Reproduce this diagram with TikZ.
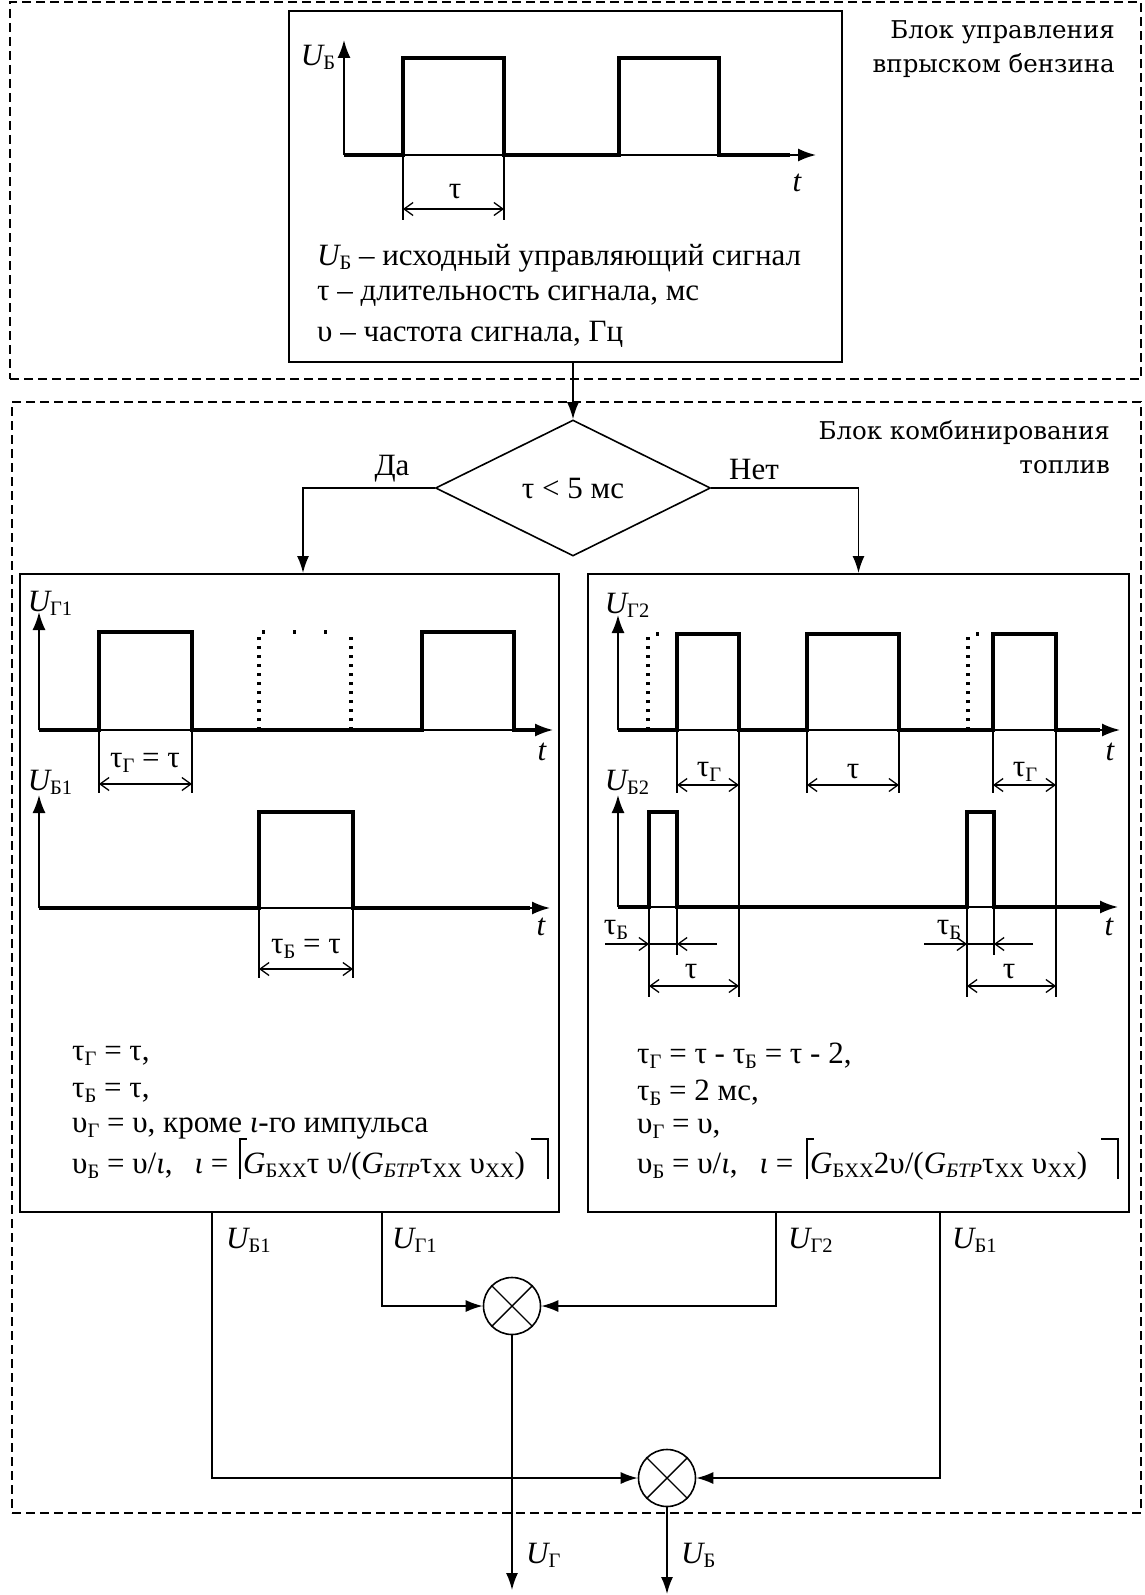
\documentclass[tikz,border=0pt]{standalone}
\usepackage{fontspec}
\setmainfont{Liberation Serif}
\newfontfamily\blockfont{DejaVu Serif}
\usetikzlibrary{arrows.meta,shapes.geometric,calc}
\newcommand{\lo}[1]{\raisebox{-0.3ex}{\fontsize{20.5}{20.5}\selectfont #1}}
\newcommand{\uu}[1]{{\itshape U}\lo{#1}}
\begin{document}
\begin{tikzpicture}[x=1pt,y=-1pt,
  txt/.style={font=\fontsize{31}{36}\selectfont, inner sep=0pt},
  blk/.style={font=\blockfont\fontsize{24.5}{34}\selectfont, inner sep=0pt, align=right},
  box/.style={draw, line width=2pt, inner sep=0pt},
  dashbox/.style={draw, line width=2pt, dash pattern=on 9pt off 5pt, inner sep=0pt},
  sig/.style={line width=4pt, line join=miter},
  axis/.style={line width=1.8pt, -{Latex[length=18pt,width=13pt]}},
  ext/.style={line width=1.1pt},
  dim/.style={line width=1.3pt, {Straight Barb[length=9pt,width=13pt]}-{Straight Barb[length=9pt,width=13pt]}},
  barb/.style={line width=1.3pt, -{Straight Barb[length=9pt,width=13pt]}},
  flow/.style={line width=1.6pt, -{Latex[length=17pt,width=12pt]}},
  dots/.style={line width=4pt, dash pattern=on 3pt off 6pt},
  sparse/.style={line width=4pt, dash pattern=on 3pt off 28pt},
  mult/.style={draw, circle, line width=1.6pt, minimum size=57pt, inner sep=0pt}
]
\useasboundingbox (0,0) rectangle (1144,1595);

% ---------- outer dashed blocks ----------
\node[dashbox, minimum width=1131pt, minimum height=377pt] (blk1) at (575.5,190.5) {};
\node[dashbox, minimum width=1129pt, minimum height=1111pt] (blk2) at (576.5,957.5) {};
\node[blk, anchor=north east] (blk1lbl) at (1115,20) {Блок управления\\впрыском бензина};
\node[blk, anchor=north east] (blk2lbl) at (1110,420) {Блок комбинирования\\топлив};

% ---------- top box ----------
\node[box, minimum width=553pt, minimum height=351pt] (top) at (565.5,186.5) {};
\draw[axis] (344,155) -- (344,40);
\draw[axis] (344,155) -- (816,155);
\draw[sig] (344,155) -- (403,155) -- (403,58) -- (504,58) -- (504,155) -- (619,155) -- (619,58) -- (719,58) -- (719,155) -- (790,155);
\draw[ext] (403,155) -- (403,220) (504,155) -- (504,220);
\draw[dim] (403,209) -- (504,209);
\node[txt] (tau0) at (455,192) {τ};
\node[txt] (t0) at (797,183) {\itshape t};
\node[txt] (ub0) at (318,57) {\uu{Б}};
\node[txt, anchor=west] (tl1) at (317,258) {\uu{Б} – исходный управляющий сигнал};
\node[txt, anchor=west] (tl2) at (317,296) {τ – длительность сигнала, мс};
\node[txt, anchor=west] (tl3) at (317,334) {υ – частота сигнала, Гц};

% ---------- decision ----------
\node[draw, diamond, line width=1.6pt, aspect=2, minimum width=275pt, minimum height=136pt, txt] (dia) at (573,488) {τ < 5 мс};
\draw[flow] (dia.north |- top.south) -- (dia.north);
\node[txt] (yes) at (392,469) {Да};
\node[txt] (no) at (754,469) {Нет};

% ---------- left box ----------
\node[box, minimum width=539pt, minimum height=638pt] (lbox) at (289.5,893) {};
\draw[flow] (dia.west) -| ([xshift=13.5pt]lbox.north);
\node[txt] (ug1) at (50,603) {\uu{Г1}};
\draw[axis] (39,730) -- (39,612);
\draw[axis] (39,730) -- (553,730);
\draw[sig] (39,730) -- (99,730) -- (99,632) -- (192,632) -- (192,730) -- (422,730) -- (422,632) -- (514,632) -- (514,730) -- (535,730);
\draw[dots] (259,730) -- (259,634);
\draw[dots] (351,730) -- (351,634);
\draw[sparse] (262,632) -- (352,632);
\draw[ext] (99,730) -- (99,793) (192,730) -- (192,793);
\draw[dim] (99,784) -- (192,784);
\node[txt] (l1a) at (145,763) {τ\lo{Г} = τ};
\node[txt] (lt1) at (542,752) {\itshape t};
\node[txt] (ub1) at (50,782) {\uu{Б1}};
\draw[axis] (39,908) -- (39,795);
\draw[axis] (39,908) -- (550,908);
\draw[sig] (39,908) -- (259,908) -- (259,812) -- (353,812) -- (353,908) -- (530,908);
\draw[ext] (259,908) -- (259,978) (353,908) -- (353,978);
\draw[dim] (259,969) -- (353,969);
\node[txt] (l1b) at (306,949) {τ\lo{Б} = τ};
\node[txt] (lt2) at (541,927) {\itshape t};

\node[txt, anchor=west] (lf1) at (72,1056) {τ\lo{Г} = τ,};
\node[txt, anchor=west] (lf2) at (72,1093) {τ\lo{Б} = τ,};
\node[txt, anchor=west] (lf3) at (72,1129) {υ\lo{Г} = υ, кроме {\itshape ι}-го импульса};
\node[txt, anchor=west] (lf4) at (72,1166) {υ\lo{Б} = υ/{\itshape ι},\hspace{22pt}{\itshape ι} =};
\node[txt, anchor=west] (lf4b) at (243,1166) {{\itshape G}\lo{БXX}τ υ/({\itshape G}\lo{\itshape БТР}τ\lo{XX} υ\lo{XX})};
\draw[line width=1.5pt] ($(lf4b.west)+(-3,13)$) -- ($(lf4b.west)+(-3,-27)$) -- ++(7,0);
\draw[line width=1.5pt] ($(lf4b.west)+(305,13)$) -- ($(lf4b.west)+(305,-27)$) -- ++(-17,0);

% ---------- right box ----------
\node[box, minimum width=541pt, minimum height=638pt] (rbox) at (858.5,893) {};
\draw[flow] (dia.east) -| (rbox.north);
\node[txt] (ug2) at (627,605) {\uu{Г2}};
\draw[axis] (618,730) -- (618,615);
\draw[axis] (618,730) -- (1120,730);
\draw[sig] (618,730) -- (677,730) -- (677,634) -- (739,634) -- (739,730) -- (807,730) -- (807,634) -- (899,634) -- (899,730) -- (993,730) -- (993,634) -- (1056,634) -- (1056,730) -- (1100,730);
\draw[dots] (648,730) -- (648,636);
\draw[dots] (968,730) -- (968,636);
\draw[sparse] (656,634) -- (672,634);
\draw[sparse] (976,634) -- (990,634);
\draw[ext] (677,730) -- (677,793) (739,730) -- (739,997) (807,730) -- (807,793) (899,730) -- (899,793) (993,730) -- (993,793) (1056,730) -- (1056,997);
\draw[dim] (677,785) -- (739,785);
\draw[dim] (807,785) -- (899,785);
\draw[dim] (993,785) -- (1056,785);
\node[txt] (r1a) at (709,772) {τ\lo{Г}};
\node[txt] (r1b) at (853,772) {τ};
\node[txt] (r1c) at (1025,772) {τ\lo{Г}};
\node[txt] (rt1) at (1110,752) {\itshape t};
\node[txt] (ub2) at (627,782) {\uu{Б2}};
\draw[axis] (618,907) -- (618,795);
\draw[axis] (618,907) -- (1118,907);
\draw[sig] (618,907) -- (649,907) -- (649,812) -- (677,812) -- (677,907) -- (967,907) -- (967,812) -- (994,812) -- (994,907) -- (1100,907);
\draw[ext] (649,907) -- (649,997) (677,907) -- (677,955) (967,907) -- (967,997) (994,907) -- (994,955);
\draw[ext] (648,944) -- (677,944) (967,944) -- (994,944);
\draw[barb] (605,944) -- (649,944);
\draw[barb] (717,944) -- (677,944);
\draw[barb] (924,944) -- (967,944);
\draw[barb] (1033,944) -- (994,944);
\node[txt] (r2a) at (616,930) {τ\lo{Б}};
\node[txt] (r2b) at (949,930) {τ\lo{Б}};
\draw[dim] (649,986) -- (739,986);
\draw[dim] (967,986) -- (1056,986);
\node[txt] (r2c) at (691,972) {τ};
\node[txt] (r2d) at (1009,972) {τ};
\node[txt] (rt2) at (1109,927) {\itshape t};

\node[txt, anchor=west] (rf1) at (637,1056) {τ\lo{Г} = τ - τ\lo{Б} = τ - 2,};
\node[txt, anchor=west] (rf2) at (637,1093) {τ\lo{Б} = 2 мс,};
\node[txt, anchor=west] (rf3) at (637,1129) {υ\lo{Г} = υ,};
\node[txt, anchor=west] (rf4) at (637,1166) {υ\lo{Б} = υ/{\itshape ι},\hspace{22pt}{\itshape ι} =};
\node[txt, anchor=west] (rf4b) at (810,1166) {{\itshape G}\lo{БXX}2υ/({\itshape G}\lo{\itshape БТР}τ\lo{XX} υ\lo{XX})};
\draw[line width=1.5pt] ($(rf4b.west)+(-3,13)$) -- ($(rf4b.west)+(-3,-27)$) -- ++(7,0);
\draw[line width=1.5pt] ($(rf4b.west)+(308,13)$) -- ($(rf4b.west)+(308,-27)$) -- ++(-17,0);

% ---------- combiners ----------
\node[mult] (m1) at (512,1306) {};
\node[mult] (m2) at (667,1478) {};
\draw[line width=1.4pt] (m1.45) -- (m1.225) (m1.135) -- (m1.315);
\draw[line width=1.4pt] (m2.45) -- (m2.225) (m2.135) -- (m2.315);
\draw[flow] ([xshift=-77.5pt]lbox.south) |- (m2.west);
\draw[flow] ([xshift=92.5pt]lbox.south) |- (m1.west);
\draw[flow] ([xshift=-82.5pt]rbox.south) |- (m1.east);
\draw[flow] ([xshift=81.5pt]rbox.south) |- (m2.east);
\coordinate (o1) at (512,1590);
\coordinate (o2) at (667,1594);
\draw[flow] (m1.south) -- (o1);
\draw[flow] (m2.south) -- (o2);
\node[txt, anchor=west] (lb1) at (226,1240) {\uu{Б1}};
\node[txt, anchor=west] (lg1) at (392,1240) {\uu{Г1}};
\node[txt, anchor=west] (lg2) at (788,1240) {\uu{Г2}};
\node[txt, anchor=west] (lb2) at (952,1240) {\uu{Б1}};
\node[txt, anchor=west] (lgo) at (526,1555) {\uu{Г}};
\node[txt, anchor=west] (lbo) at (681,1555) {\uu{Б}};
\end{tikzpicture}
\end{document}
